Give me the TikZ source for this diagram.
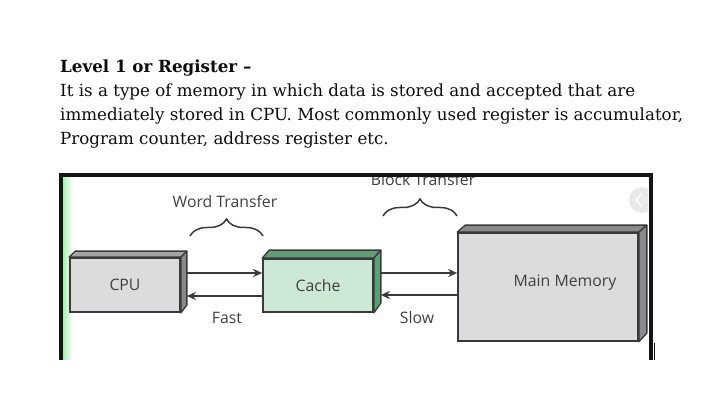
\documentclass[tikz,border=0pt]{standalone}
\usepackage{fontspec}
\setmainfont{DejaVu Serif}
\newfontfamily\diagfont{Open Sans}
\usetikzlibrary{arrows.meta,decorations.pathreplacing}
\definecolor{boxgray}{HTML}{DCDCDE}
\definecolor{topgray}{HTML}{A4A4A6}
\definecolor{sidegray}{HTML}{8A8A8C}
\definecolor{boxgreen}{HTML}{CDE8D5}
\definecolor{sidegreen}{HTML}{5E9E74}
\definecolor{edge}{HTML}{3A3A3A}
\definecolor{stripgreen}{HTML}{A8F0B2}

\begin{document}
\begin{tikzpicture}[x=1pt,y=-1pt,
  box/.style={draw=edge,line width=1.7pt,inner sep=0pt,
    font=\diagfont\fontsize{15.8}{18}\selectfont,text=black!75},
  face/.style={draw=edge,line width=1.3pt,line join=round},
  lbl/.style={font=\diagfont\fontsize{15.8}{18}\selectfont,text=black!75},
  para/.style={anchor=base west,inner sep=0pt,font=\fontsize{16.7}{20}\selectfont,text=black!95},
  wire/.style={draw=edge,line width=1.3pt,-{Stealth[length=9pt,width=8pt]}},
  brc/.style={decorate,decoration={brace,amplitude=17pt},draw=edge,line width=1.5pt}]
\useasboundingbox (0,0) rectangle (713,411);

% text above the figure
\node[para] (title) at (60,73) {\bfseries Level 1 or Register –};
\node[para] (line1) at (60,97) {It is a type of memory in which data is stored and accepted that are};
\node[para] (line2) at (60,121) {immediately stored in CPU. Most commonly used register is accumulator,};
\node[para] (line3) at (60,145) {Program counter, address register etc.};

% frame of the figure
\shade[left color=stripgreen,right color=white] (63,177) rectangle (73,360);
\begin{scope}
\clip (63,177) rectangle (648,360);
\fill[black!9] (642,200) circle (13);
\draw[white,line width=1.6pt] (641,194) -- (636,200) -- (641,206);
\node[lbl] (block) at (423,180) {Block Transfer};
\end{scope}
\draw[line width=4pt,black!92] (61,360) -- (61,175) -- (650.5,175) -- (650.5,360);
\draw[line width=1pt,black!92] (654.5,343) -- (654.5,360);

% boxes
\node[box,fill=boxgray,minimum width=110pt,minimum height=54pt] (cpu) at (125,285) {CPU};
\draw[face,fill=topgray] (cpu.north west) -- ++(6,-6) -- ([shift={(6,-6)}]cpu.north east) -- (cpu.north east) -- cycle;
\draw[face,fill=sidegray] (cpu.north east) -- ++(6,-6) -- ++(0,54) -- (cpu.south east) -- cycle;

\node[box,fill=boxgreen,minimum width=110pt,minimum height=53pt] (cache) at (318,285.5) {Cache};
\draw[face,fill=sidegreen] (cache.north west) -- ++(7,-8) -- ([shift={(7,-8)}]cache.north east) -- (cache.north east) -- cycle;
\draw[face,fill=sidegreen] (cache.north east) -- ++(7,-8) -- ++(0,53) -- (cache.south east) -- cycle;

\node[box,fill=boxgray,minimum width=180pt,minimum height=108pt] (mm) at (548,287) {};
\draw[face,fill=sidegray] (mm.north west) -- ++(8,-7) -- ([shift={(8,-7)}]mm.north east) -- (mm.north east) -- cycle;
\draw[face,fill=sidegray] (mm.north east) -- ++(8,-7) -- ++(0,108) -- (mm.south east) -- cycle;
\node[lbl] (mmtext) at ([shift={(17,-4)}]mm.center) {Main Memory};

% transfers
\coordinate (cpuout) at ([shift={(6,-12)}]cpu.east);
\coordinate (cpuin) at ([shift={(6,11)}]cpu.east);
\draw[wire] (cpuout) -- (cpuout -| cache.west);
\draw[wire] (cpuin -| cache.west) -- (cpuin);
\coordinate (cacheout) at ([shift={(7,-12.5)}]cache.east);
\coordinate (cachein) at ([shift={(7,9.5)}]cache.east);
\draw[wire] (cacheout) -- (cacheout -| mm.west);
\draw[wire] (cachein -| mm.west) -- (cachein);

\node[lbl] (fast) at (227,318) {Fast};
\node[lbl] (slow) at (417,318) {Slow};
\node[lbl] (word) at (225,202) {Word Transfer};
\draw[brc] (190,236) -- (263,236);
\draw[brc] (383,216) -- (457,216);
\end{tikzpicture}
\end{document}
